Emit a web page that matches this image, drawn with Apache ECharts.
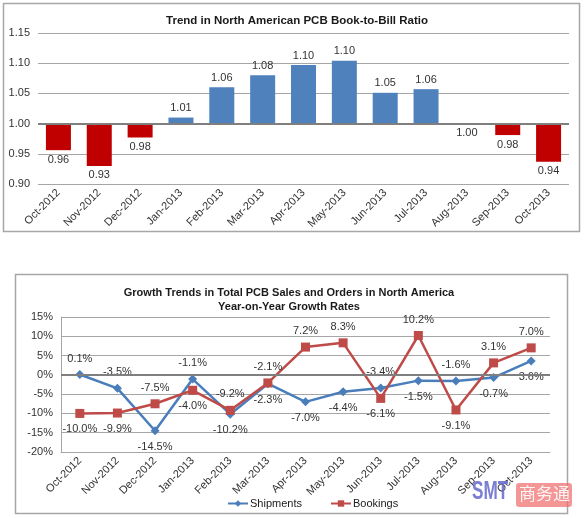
<!DOCTYPE html>
<html><head><meta charset="utf-8">
<script src="https://cdn.jsdelivr.net/npm/echarts@6/dist/echarts.min.js"></script>
<style>html,body{margin:0;padding:0;background:#fff}#c{width:584px;height:518px}</style>
</head><body><div id="c"></div>
<script>
// ---- data ----
const months = ['Oct-2012','Nov-2012','Dec-2012','Jan-2013','Feb-2013','Mar-2013','Apr-2013','May-2013','Jun-2013','Jul-2013','Aug-2013','Sep-2013','Oct-2013'];
const bookToBill = [0.956, 0.930, 0.977, 1.010, 1.060, 1.080, 1.097, 1.104, 1.051, 1.057, 1.000, 0.981, 0.937];
const bookToBillTicks = [0.90, 0.95, 1.00, 1.05, 1.10, 1.15];
const shipments = [0.1, -3.5, -14.5, -1.1, -10.2, -2.3, -7.0, -4.4, -3.4, -1.5, -1.6, -0.7, 3.6];
const bookings = [-10.0, -9.9, -7.5, -4.0, -9.2, -2.1, 7.2, 8.3, -6.1, 10.2, -9.1, 3.1, 7.0];
const growthTicks = [-20, -15, -10, -5, 0, 5, 10, 15];

// ---- build ----
const FONT = 'Liberation Sans, Arial, sans-serif';
const GRID = '#A6A6A6', ZERO = '#7F7F7F', TXT = '#333333';
const BLUE = '#4F81BD', RED = '#C00000';
const base = 1.0;
const diffs = bookToBill.map(v => Math.round((v - base) * 1000) / 10);
const barData = diffs.map((d, i) => ({
  value: d,
  itemStyle: { color: bookToBill[i] > base ? BLUE : RED },
  label: { position: bookToBill[i] > base ? 'top' : 'bottom' }
}));
const shipData = shipments.map((v, i) => ({ value: v, label: { position: v >= bookings[i] ? 'top' : 'bottom' } }));
const bookData = bookings.map((v, i) => ({ value: v, label: { position: v > shipments[i] ? 'top' : 'bottom' } }));

const chart = echarts.init(document.getElementById('c'), null, { renderer: 'canvas' });
chart.setOption({
  animation: false,
  textStyle: { fontFamily: FONT },
  title: [
    { text: 'Trend in North American PCB Book-to-Bill Ratio', left: 292, top: 10, textAlign: 'center',
      textStyle: { fontFamily: FONT, fontSize: 11.5, fontWeight: 'bold', color: '#1a1a1a' } },
    { text: 'Growth Trends in Total PCB Sales and Orders in North America\nYear-on-Year Growth Rates', left: 284, top: 281, textAlign: 'center',
      textStyle: { fontFamily: FONT, fontSize: 11, fontWeight: 'bold', color: '#1a1a1a', lineHeight: 14 } }
  ],
  graphic: [
    { type: 'rect', shape: { x: 3.5, y: 3.5, width: 576, height: 228 }, style: { fill: 'none', stroke: '#A6A6A6', lineWidth: 1.5 }, z: -1 },
    { type: 'rect', shape: { x: 15.5, y: 274.5, width: 552, height: 239 }, style: { fill: 'none', stroke: '#A6A6A6', lineWidth: 1.5 }, z: -1 },
    { type: 'text', x: 472, y: 479, scaleX: 0.66, scaleY: 1, z: 100, style: { text: 'SMT', font: 'bold 26px "Liberation Sans", sans-serif', fill: 'rgba(100,105,205,0.85)' } },
    { type: 'rect', shape: { x: 516, y: 483, width: 56, height: 24, r: 3 }, style: { fill: 'rgba(240,110,110,0.72)' }, z: 100 },
    { type: 'text', x: 519, y: 485, z: 101, style: { text: '商务通', font: '17px "Noto Sans CJK SC", sans-serif', fill: 'rgba(255,255,255,0.9)' } }
  ],
  legend: {
    data: ['Shipments', 'Bookings'], left: 222, top: 493, itemWidth: 20, itemHeight: 8, itemGap: 28,
    textStyle: { fontFamily: FONT, fontSize: 11, color: '#1a1a1a', padding: [0, 0, 0, -3] }
  },
  grid: [
    { left: 38, right: 15, top: 33, bottom: 334 },
    { left: 61, right: 34, top: 317, bottom: 66 }
  ],
  xAxis: [
    { type: 'category', gridIndex: 0, data: months, axisLine: { show: false }, axisTick: { show: false },
      axisLabel: { rotate: 45, margin: 7, fontSize: 11, color: TXT, fontFamily: FONT, interval: 0 } },
    { type: 'category', gridIndex: 1, data: months, axisLine: { show: true, onZero: false, lineStyle: { color: GRID, width: 1 } }, axisTick: { show: false },
      axisLabel: { rotate: 45, margin: 7, fontSize: 11, color: TXT, fontFamily: FONT, interval: 0 } }
  ],
  yAxis: [
    { type: 'value', gridIndex: 0, min: (bookToBillTicks[0] - base) * 100, max: Math.round((bookToBillTicks[bookToBillTicks.length - 1] - base) * 100), interval: 5,
      axisLine: { show: false }, axisTick: { show: false },
      axisLabel: { fontSize: 11, color: TXT, fontFamily: FONT, margin: 8, formatter: v => (base + v / 100).toFixed(2) },
      splitLine: { lineStyle: { color: GRID, width: 1.2 } } },
    { type: 'value', gridIndex: 1, min: growthTicks[0], max: growthTicks[growthTicks.length - 1], interval: 5,
      axisLine: { show: true, lineStyle: { color: GRID, width: 1 } }, axisTick: { show: false },
      axisLabel: { fontSize: 11, color: TXT, fontFamily: FONT, margin: 8, formatter: '{value}%' },
      splitLine: { lineStyle: { color: GRID, width: 1.2 } } }
  ],
  series: [
    { type: 'bar', xAxisIndex: 0, yAxisIndex: 0, data: barData, barWidth: 25,
      label: { show: true, distance: 4, fontSize: 11, color: TXT, fontFamily: FONT,
        formatter: p => bookToBill[p.dataIndex].toFixed(2) },
      markLine: { silent: true, symbol: 'none', label: { show: false }, lineStyle: { color: ZERO, width: 2, type: 'solid' }, data: [{ yAxis: 0 }] } },
    { name: 'Shipments', type: 'line', xAxisIndex: 1, yAxisIndex: 1, data: shipData, z: 3,
      color: '#4A7EBB', symbol: 'diamond', symbolSize: 9, lineStyle: { width: 2.5 },
      label: { show: true, distance: 6, fontSize: 11, color: TXT, fontFamily: FONT, formatter: p => p.value.toFixed(1) + '%' },
      markLine: { silent: true, symbol: 'none', label: { show: false }, lineStyle: { color: ZERO, width: 2, type: 'solid' }, data: [{ yAxis: 0 }] } },
    { name: 'Bookings', type: 'line', xAxisIndex: 1, yAxisIndex: 1, data: bookData, z: 4,
      color: '#BE4B48', symbol: 'rect', symbolSize: 9, lineStyle: { width: 2.5 },
      label: { show: true, distance: 6, fontSize: 11, color: TXT, fontFamily: FONT, formatter: p => p.value.toFixed(1) + '%' } }
  ]
});
</script></body></html>
